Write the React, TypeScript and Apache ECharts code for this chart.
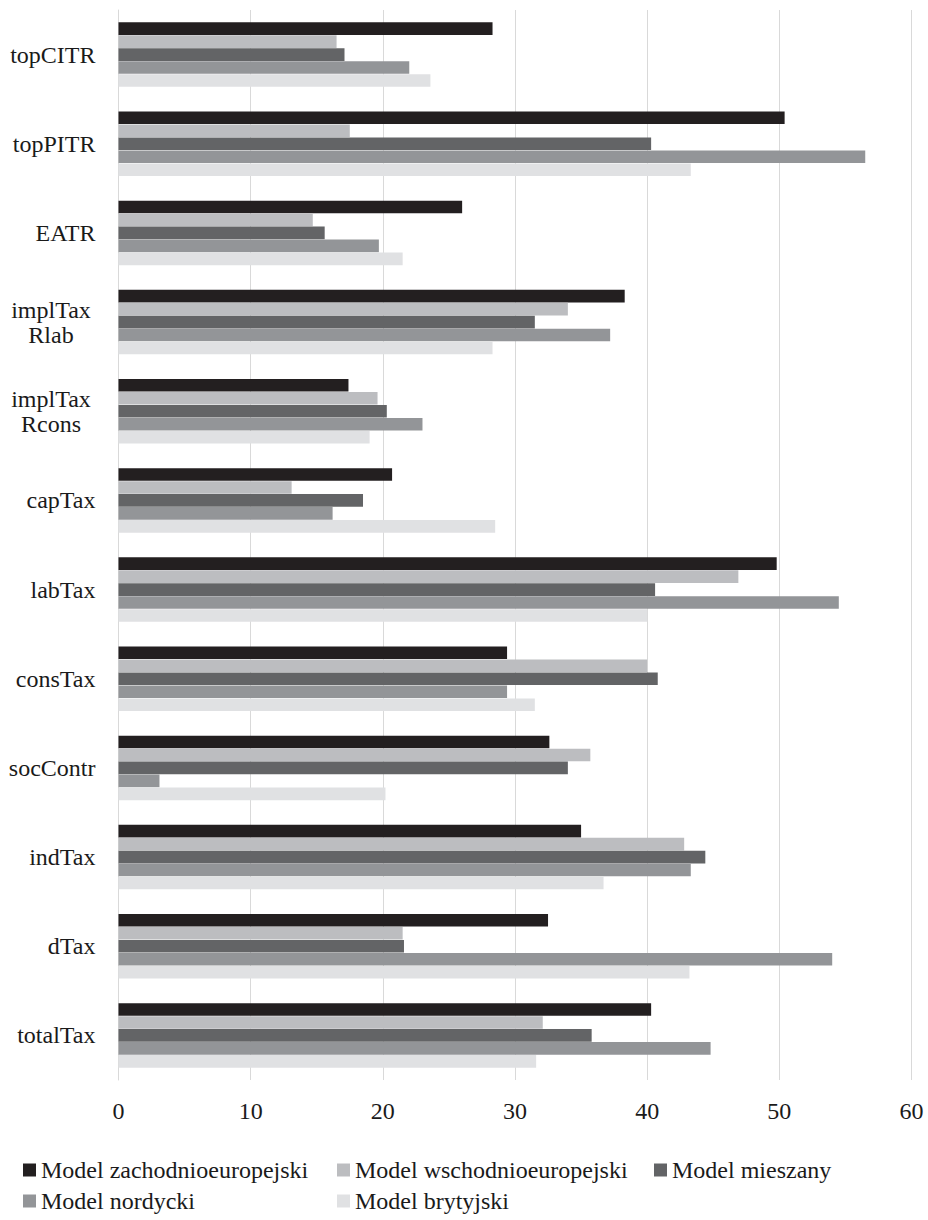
import React, { useEffect, useRef } from "react";
import * as echarts from "echarts";

const categories = [
  "topCITR",
  "topPITR",
  "EATR",
  "implTax\nRlab",
  "implTax\nRcons",
  "capTax",
  "labTax",
  "consTax",
  "socContr",
  "indTax",
  "dTax",
  "totalTax",
];

const seriesNames = [
  "Model zachodnioeuropejski",
  "Model wschodnioeuropejski",
  "Model mieszany",
  "Model nordycki",
  "Model brytyjski",
];

const zachodni = [28.3, 50.4, 26.0, 38.3, 17.4, 20.7, 49.8, 29.4, 32.6, 35.0, 32.5, 40.3];
const wschodni = [16.5, 17.5, 14.7, 34.0, 19.6, 13.1, 46.9, 40.0, 35.7, 42.8, 21.5, 32.1];
const mieszany = [17.1, 40.3, 15.6, 31.5, 20.3, 18.5, 40.6, 40.8, 34.0, 44.4, 21.6, 35.8];
const nordycki = [22.0, 56.5, 19.7, 37.2, 23.0, 16.2, 54.5, 29.4, 3.1, 43.3, 54.0, 44.8];
const brytyjski = [23.6, 43.3, 21.5, 28.3, 19.0, 28.5, 40.0, 31.5, 20.2, 36.7, 43.2, 31.6];

const xTicks = [0, 10, 20, 30, 40, 50, 60];

const seriesData = [zachodni, wschodni, mieszany, nordycki, brytyjski];
const colors = ["#231f20", "#bcbdc0", "#636466", "#939598", "#e0e1e3"];

const FONT = "Liberation Serif";

export default function App() {
  const ref = useRef<HTMLDivElement>(null);

  useEffect(() => {
    if (!ref.current) return;
    const chart = echarts.init(ref.current, undefined, { renderer: "svg" });

    const legendPos = [
      { left: 23, top: 1158 },
      { left: 337, top: 1158 },
      { left: 654, top: 1158 },
      { left: 23, top: 1189 },
      { left: 337, top: 1189 },
    ];

    const catData = categories.map((c) =>
      c.includes("\n")
        ? { value: c, textStyle: { align: "center", padding: [0, 89, 0, 0] } }
        : { value: c }
    );

    chart.setOption({
      animation: false,
      color: colors,
      textStyle: { fontFamily: FONT },
      grid: { left: 118.5, right: 16.5, top: 10, bottom: 140, containLabel: false },
      legend: seriesNames.map((n, i) => ({
        data: [n],
        left: legendPos[i].left,
        top: legendPos[i].top,
        padding: 0,
        itemWidth: 13,
        itemHeight: 13,
        icon: "rect",
        textStyle: { fontFamily: FONT, fontSize: 24, color: "#1a1a1a" },
      })),
      xAxis: {
        type: "value",
        min: xTicks[0],
        max: xTicks[xTicks.length - 1],
        interval: 10,
        axisLine: { show: false },
        axisTick: { show: false },
        axisLabel: { fontFamily: FONT, fontSize: 24, color: "#1a1a1a", margin: 19 },
        splitLine: { show: true, lineStyle: { color: "#d9d9d9", width: 1 } },
      },
      yAxis: {
        type: "category",
        inverse: true,
        data: catData,
        axisLine: { show: true, lineStyle: { color: "#d9d9d9", width: 1 } },
        axisTick: { show: false },
        axisLabel: {
          fontFamily: FONT,
          fontSize: 24,
          color: "#1a1a1a",
          margin: 23,
          lineHeight: 25,
        },
      },
      series: seriesNames.map((n, i) => ({
        name: n,
        type: "bar",
        data: seriesData[i],
        barCategoryGap: "27.6%",
        barGap: "3%",
        itemStyle: { color: colors[i] },
      })),
    });

    return () => chart.dispose();
  }, []);

  return (
    <div
      ref={ref}
      style={{ width: 928, height: 1220, position: "absolute", left: 0, top: 0 }}
    />
  );
}
